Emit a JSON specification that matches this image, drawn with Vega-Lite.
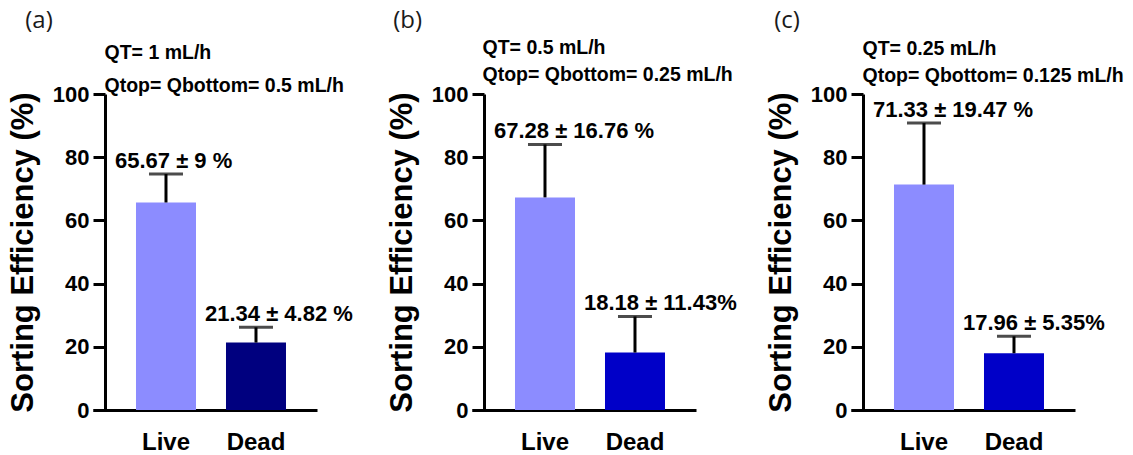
{
  "$schema": "https://vega.github.io/schema/vega-lite/v6.json",
  "padding": {"left": 7, "top": 9, "right": 0, "bottom": 0},
  "background": "white",
  "datasets": {
    "eff": [
      {"panel": "a", "group": "Live", "mean": 65.67, "sd": 9, "upper": 74.67, "label": "65.67 ± 9 %"},
      {"panel": "a", "group": "Dead", "mean": 21.34, "sd": 4.82, "upper": 26.16, "label": "21.34 ± 4.82 %"},
      {"panel": "b", "group": "Live", "mean": 67.28, "sd": 16.76, "upper": 84.04, "label": "67.28 ± 16.76 %"},
      {"panel": "b", "group": "Dead", "mean": 18.18, "sd": 11.43, "upper": 29.61, "label": "18.18 ± 11.43%"},
      {"panel": "c", "group": "Live", "mean": 71.33, "sd": 19.47, "upper": 90.8, "label": "71.33 ± 19.47 %"},
      {"panel": "c", "group": "Dead", "mean": 17.96, "sd": 5.35, "upper": 23.31, "label": "17.96 ± 5.35%"}
    ]
  },
  "config": {
    "view": {"stroke": null},
    "font": "Liberation Sans",
    "axis": {
      "grid": false,
      "domainColor": "black",
      "domainWidth": 3,
      "tickColor": "black",
      "tickWidth": 3,
      "labelColor": "black",
      "labelFont": "Liberation Sans",
      "labelFontWeight": "bold",
      "titleColor": "black",
      "titleFont": "Liberation Sans",
      "titleFontWeight": "bold"
    },
    "title": {"font": "Open Sans", "fontSize": 24, "fontWeight": "normal", "color": "#1a1a1a", "anchor": "start", "frame": "bounds"}
  },
  "bounds": "flush",
  "spacing": 155,
  "resolve": {"scale": {"color": "independent"}},
  "hconcat": [
    {
      "title": {"text": "(a)", "dx": 18, "offset": 9},
      "width": 224,
      "height": 316,
      "data": {"name": "eff"},
      "transform": [{"filter": "datum.panel === 'a'"}],
      "layer": [
        {
          "mark": {"type": "bar"},
          "encoding": {
            "x": {"field": "group", "type": "nominal", "sort": ["Live", "Dead"],
              "scale": {"paddingInner": 0.3333, "paddingOuter": 0.4111, "align": 0.581},
              "axis": {"orient": "bottom", "title": null, "labelAngle": 0, "ticks": false, "labelFontSize": 24, "labelPadding": 20}},
            "y": {"field": "mean", "type": "quantitative", "scale": {"domain": [0, 100], "nice": false},
              "axis": {"title": "Sorting Efficiency (%)", "values": [0, 20, 40, 60, 80, 100], "offset": -12, "tickSize": 12, "labelPadding": 4, "labelFontSize": 22, "titleFontSize": 31, "titlePadding": 13}},
            "color": {"field": "group", "type": "nominal", "scale": {"domain": ["Live", "Dead"], "range": ["#8C8CFF", "#00007F"]}, "legend": null}
          }
        },
        {
          "mark": {"type": "rule", "color": "black", "strokeWidth": 3},
          "encoding": {
            "x": {"field": "group", "type": "nominal", "sort": ["Live", "Dead"], "axis": null},
            "y": {"field": "mean", "type": "quantitative"},
            "y2": {"field": "upper"}
          }
        },
        {
          "mark": {"type": "tick", "orient": "horizontal", "size": 34, "thickness": 3, "color": "black"},
          "encoding": {
            "x": {"field": "group", "type": "nominal", "sort": ["Live", "Dead"], "axis": null},
            "y": {"field": "upper", "type": "quantitative"}
          }
        },
        {
          "mark": {"type": "text", "align": "left", "baseline": "alphabetic", "dx": -21, "dy": -6, "fontSize": 22, "fontWeight": "bold", "font": "Liberation Sans", "color": "black"},
          "encoding": {
            "x": {"field": "group", "type": "nominal", "sort": ["Live", "Dead"], "bandPosition": 0,
              "axis": {"orient": "top", "labels": false, "ticks": false, "domain": false,
                "title": ["QT= 1 mL/h", "Qtop= Qbottom= 0.5 mL/h"],
                "titleFontSize": 19.5, "titleAlign": "left", "titleBaseline": "alphabetic", "titleX": 11, "titleY": -36, "titleLineHeight": 33}},
            "y": {"field": "upper", "type": "quantitative"},
            "text": {"field": "label"}
          }
        }
      ],
      "resolve": {"axis": {"x": "independent"}}
    },
    {
      "title": {"text": "(b)", "dx": 7, "offset": 4},
      "width": 224,
      "height": 316,
      "data": {"name": "eff"},
      "transform": [{"filter": "datum.panel === 'b'"}],
      "layer": [
        {
          "mark": {"type": "bar"},
          "encoding": {
            "x": {"field": "group", "type": "nominal", "sort": ["Live", "Dead"],
              "scale": {"paddingInner": 0.3333, "paddingOuter": 0.4111, "align": 0.581},
              "axis": {"orient": "bottom", "title": null, "labelAngle": 0, "ticks": false, "labelFontSize": 24, "labelPadding": 20}},
            "y": {"field": "mean", "type": "quantitative", "scale": {"domain": [0, 100], "nice": false},
              "axis": {"title": "Sorting Efficiency (%)", "values": [0, 20, 40, 60, 80, 100], "offset": -12, "tickSize": 12, "labelPadding": 4, "labelFontSize": 22, "titleFontSize": 31, "titlePadding": 13}},
            "color": {"field": "group", "type": "nominal", "scale": {"domain": ["Live", "Dead"], "range": ["#8C8CFF", "#0000C8"]}, "legend": null}
          }
        },
        {
          "mark": {"type": "rule", "color": "black", "strokeWidth": 3},
          "encoding": {
            "x": {"field": "group", "type": "nominal", "sort": ["Live", "Dead"], "axis": null},
            "y": {"field": "mean", "type": "quantitative"},
            "y2": {"field": "upper"}
          }
        },
        {
          "mark": {"type": "tick", "orient": "horizontal", "size": 34, "thickness": 3, "color": "black"},
          "encoding": {
            "x": {"field": "group", "type": "nominal", "sort": ["Live", "Dead"], "axis": null},
            "y": {"field": "upper", "type": "quantitative"}
          }
        },
        {
          "mark": {"type": "text", "align": "left", "baseline": "alphabetic", "dx": -21, "dy": -6, "fontSize": 22, "fontWeight": "bold", "font": "Liberation Sans", "color": "black"},
          "encoding": {
            "x": {"field": "group", "type": "nominal", "sort": ["Live", "Dead"], "bandPosition": 0,
              "axis": {"orient": "top", "labels": false, "ticks": false, "domain": false,
                "title": ["QT= 0.5 mL/h", "Qtop= Qbottom= 0.25 mL/h"],
                "titleFontSize": 19.5, "titleAlign": "left", "titleBaseline": "alphabetic", "titleX": 10, "titleY": -41, "titleLineHeight": 27}},
            "y": {"field": "upper", "type": "quantitative"},
            "text": {"field": "label"}
          }
        }
      ],
      "resolve": {"axis": {"x": "independent"}}
    },
    {
      "title": {"text": "(c)", "dx": 9, "offset": 5},
      "width": 224,
      "height": 316,
      "data": {"name": "eff"},
      "transform": [{"filter": "datum.panel === 'c'"}],
      "layer": [
        {
          "mark": {"type": "bar"},
          "encoding": {
            "x": {"field": "group", "type": "nominal", "sort": ["Live", "Dead"],
              "scale": {"paddingInner": 0.3333, "paddingOuter": 0.4111, "align": 0.581},
              "axis": {"orient": "bottom", "title": null, "labelAngle": 0, "ticks": false, "labelFontSize": 24, "labelPadding": 20}},
            "y": {"field": "mean", "type": "quantitative", "scale": {"domain": [0, 100], "nice": false},
              "axis": {"title": "Sorting Efficiency (%)", "values": [0, 20, 40, 60, 80, 100], "offset": -12, "tickSize": 12, "labelPadding": 4, "labelFontSize": 22, "titleFontSize": 31, "titlePadding": 13}},
            "color": {"field": "group", "type": "nominal", "scale": {"domain": ["Live", "Dead"], "range": ["#8C8CFF", "#0000C8"]}, "legend": null}
          }
        },
        {
          "mark": {"type": "rule", "color": "black", "strokeWidth": 3},
          "encoding": {
            "x": {"field": "group", "type": "nominal", "sort": ["Live", "Dead"], "axis": null},
            "y": {"field": "mean", "type": "quantitative"},
            "y2": {"field": "upper"}
          }
        },
        {
          "mark": {"type": "tick", "orient": "horizontal", "size": 34, "thickness": 3, "color": "black"},
          "encoding": {
            "x": {"field": "group", "type": "nominal", "sort": ["Live", "Dead"], "axis": null},
            "y": {"field": "upper", "type": "quantitative"}
          }
        },
        {
          "mark": {"type": "text", "align": "left", "baseline": "alphabetic", "dx": -21, "dy": -6, "fontSize": 22, "fontWeight": "bold", "font": "Liberation Sans", "color": "black"},
          "encoding": {
            "x": {"field": "group", "type": "nominal", "sort": ["Live", "Dead"], "bandPosition": 0,
              "axis": {"orient": "top", "labels": false, "ticks": false, "domain": false,
                "title": ["QT= 0.25 mL/h", "Qtop= Qbottom= 0.125 mL/h"],
                "titleFontSize": 19.5, "titleAlign": "left", "titleBaseline": "alphabetic", "titleX": 11, "titleY": -40, "titleLineHeight": 27}},
            "y": {"field": "upper", "type": "quantitative"},
            "text": {"field": "label"}
          }
        }
      ],
      "resolve": {"axis": {"x": "independent"}}
    }
  ]
}
